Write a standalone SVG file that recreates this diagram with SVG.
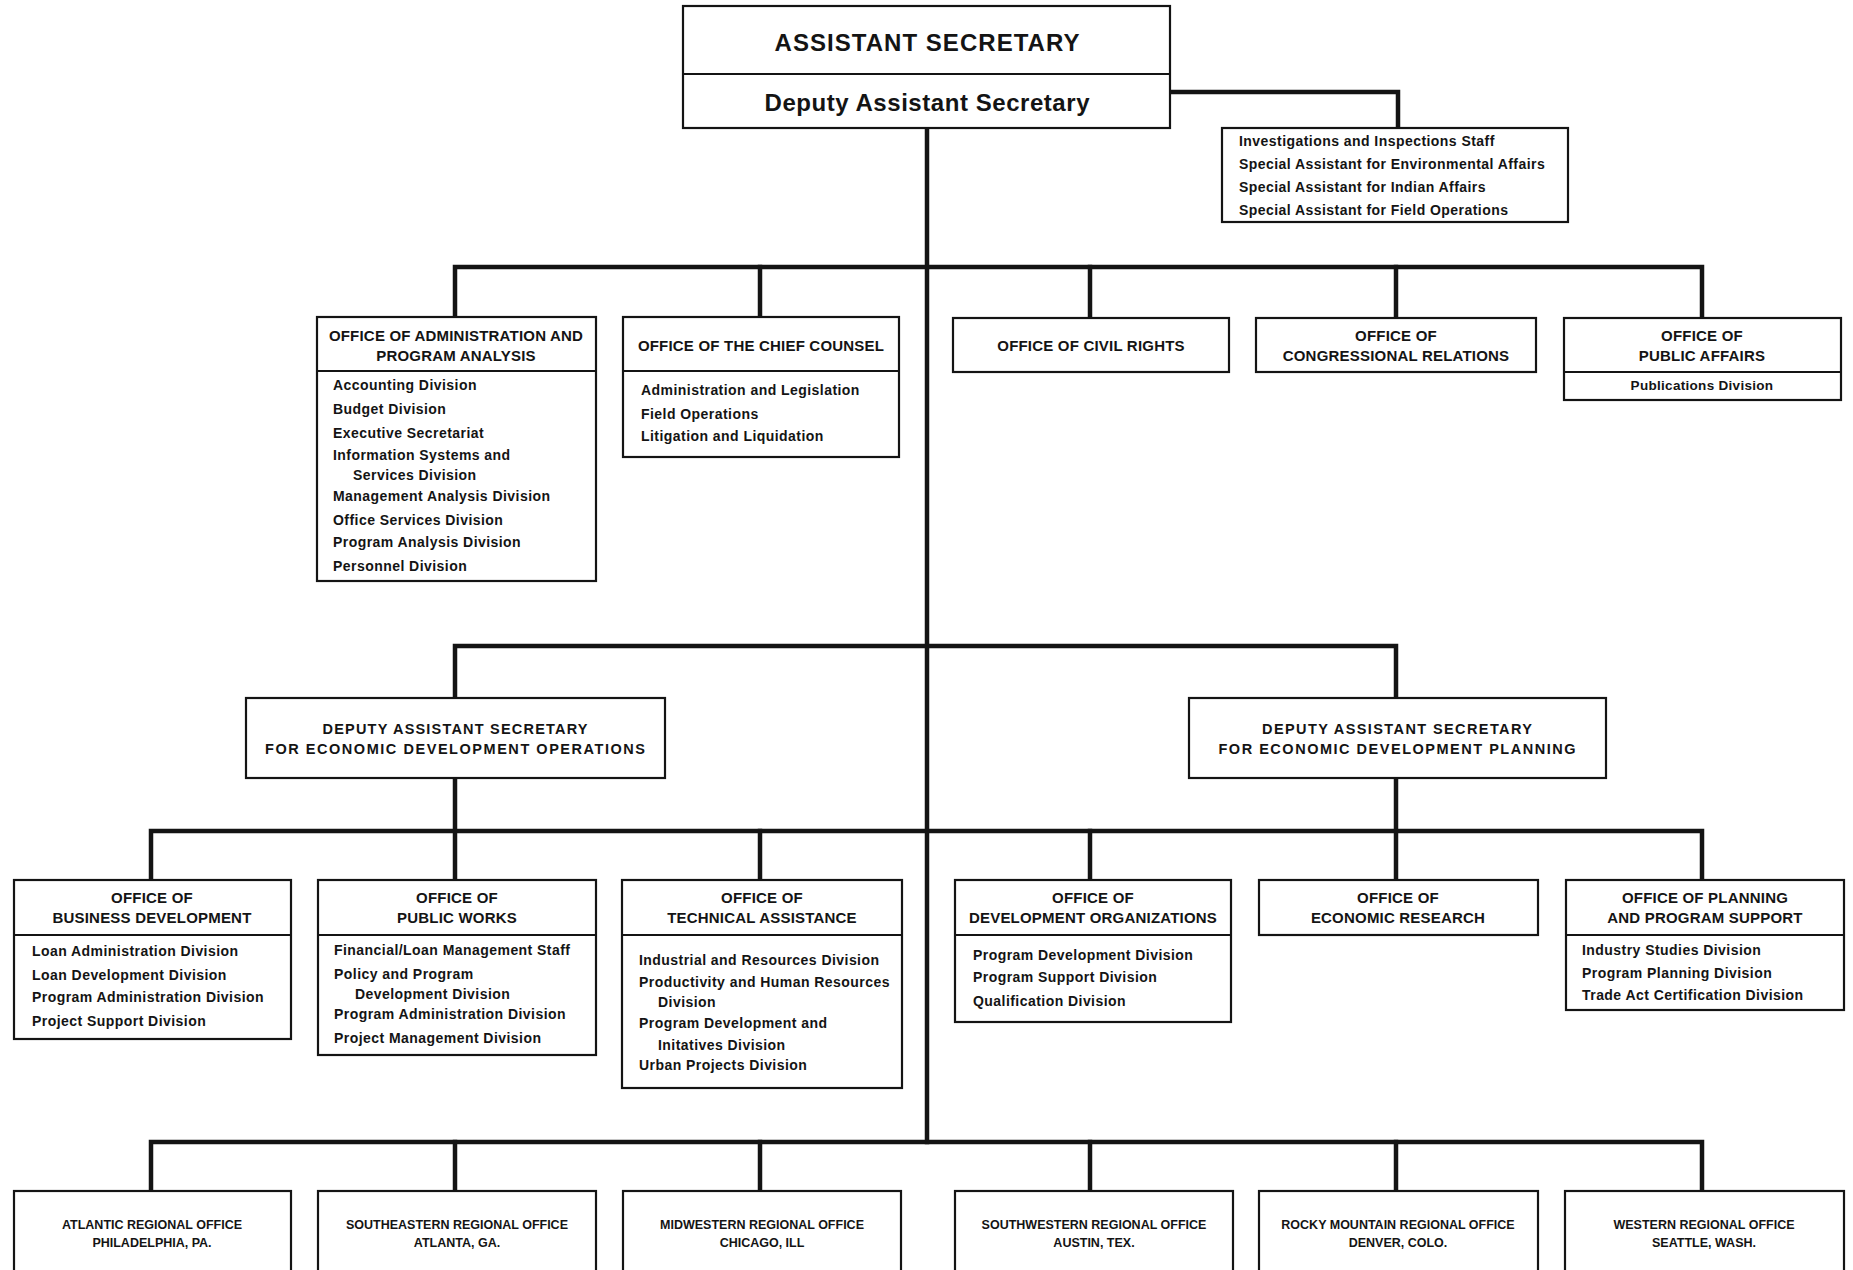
<svg xmlns="http://www.w3.org/2000/svg" width="1853" height="1270" viewBox="0 0 1853 1270">
<style>
.bg{fill:#fff}
.box{fill:#fff;stroke:#141414;stroke-width:2.2}
.dv{stroke:#141414;stroke-width:2}
.conn{fill:none;stroke:#141414;stroke-width:4.5;stroke-linejoin:miter;stroke-linecap:square}
text{font-family:"Liberation Sans",Arial,sans-serif;font-weight:bold;fill:#141414}
.t{font-size:15px;text-anchor:middle;letter-spacing:0.2px}
.i{font-size:14px;letter-spacing:0.45px}
.ic{font-size:13.5px;text-anchor:middle;letter-spacing:0.3px}
.r{font-size:12.5px;text-anchor:middle}
.big{font-size:24px;text-anchor:middle}
.mid{font-size:24px;text-anchor:middle}
.das{font-size:14.5px;text-anchor:middle}
</style>
<rect class="bg" x="0" y="0" width="1853" height="1270"/>

<g id="connectors">
<path class="conn" d="M1170,92 H1398 V128"/>
<path class="conn" d="M927,128 V1142"/>
<path class="conn" d="M455,317 V267 H1702 V317"/>
<path class="conn" d="M760,267 V317"/>
<path class="conn" d="M1090,267 V317"/>
<path class="conn" d="M1396,267 V317"/>
<path class="conn" d="M455,698 V646 H1396 V698"/>
<path class="conn" d="M455,778 V880"/>
<path class="conn" d="M1396,778 V880"/>
<path class="conn" d="M151,880 V831 H1702 V880"/>
<path class="conn" d="M760,831 V880"/>
<path class="conn" d="M1090,831 V880"/>
<path class="conn" d="M151,1191 V1142 H1702 V1191"/>
<path class="conn" d="M455,1142 V1191"/>
<path class="conn" d="M760,1142 V1191"/>
<path class="conn" d="M1090,1142 V1191"/>
<path class="conn" d="M1396,1142 V1191"/>
</g>

<g id="assistant-secretary">
<rect class="box" x="683" y="6" width="487" height="122"/>
<line class="dv" x1="683" y1="74" x2="1170" y2="74"/>
<text class="big" x="927" y="51" textLength="305">ASSISTANT SECRETARY</text>
<text class="mid" x="927" y="111" textLength="325">Deputy Assistant Secretary</text>
</g>

<g id="staff">
<rect class="box" x="1222" y="128" width="346" height="94"/>
<text class="i" x="1239" y="146">Investigations and Inspections Staff</text>
<text class="i" x="1239" y="169">Special Assistant for Environmental Affairs</text>
<text class="i" x="1239" y="192">Special Assistant for Indian Affairs</text>
<text class="i" x="1239" y="215">Special Assistant for Field Operations</text>
</g>

<g id="admin">
<rect class="box" x="317" y="317" width="279" height="264"/>
<line class="dv" x1="317" y1="371" x2="596" y2="371"/>
<text class="t" x="456" y="341">OFFICE OF ADMINISTRATION AND</text>
<text class="t" x="456" y="361">PROGRAM ANALYSIS</text>
<text class="i" x="333" y="390">Accounting Division</text>
<text class="i" x="333" y="414">Budget Division</text>
<text class="i" x="333" y="438">Executive Secretariat</text>
<text class="i" x="333" y="460">Information Systems and</text>
<text class="i" x="353" y="480">Services Division</text>
<text class="i" x="333" y="501">Management Analysis Division</text>
<text class="i" x="333" y="525">Office Services Division</text>
<text class="i" x="333" y="547">Program Analysis Division</text>
<text class="i" x="333" y="571">Personnel Division</text>
</g>

<g id="chief-counsel">
<rect class="box" x="623" y="317" width="276" height="140"/>
<line class="dv" x1="623" y1="371" x2="899" y2="371"/>
<text class="t" x="761" y="351">OFFICE OF THE CHIEF COUNSEL</text>
<text class="i" x="641" y="395">Administration and Legislation</text>
<text class="i" x="641" y="419">Field Operations</text>
<text class="i" x="641" y="441">Litigation and Liquidation</text>
</g>

<g id="civil-rights">
<rect class="box" x="953" y="318" width="276" height="54"/>
<text class="t" x="1091" y="351">OFFICE OF CIVIL RIGHTS</text>
</g>

<g id="congressional">
<rect class="box" x="1256" y="318" width="280" height="54"/>
<text class="t" x="1396" y="341">OFFICE OF</text>
<text class="t" x="1396" y="361">CONGRESSIONAL RELATIONS</text>
</g>

<g id="public-affairs">
<rect class="box" x="1564" y="318" width="277" height="82"/>
<line class="dv" x1="1564" y1="372" x2="1841" y2="372"/>
<text class="t" x="1702" y="341">OFFICE OF</text>
<text class="t" x="1702" y="361">PUBLIC AFFAIRS</text>
<text class="ic" x="1702" y="390">Publications Division</text>
</g>

<g id="das-operations">
<rect class="box" x="246" y="698" width="419" height="80"/>
<text class="das" x="455" y="734" textLength="265">DEPUTY ASSISTANT SECRETARY</text>
<text class="das" x="455" y="754" textLength="380">FOR ECONOMIC DEVELOPMENT OPERATIONS</text>
</g>

<g id="das-planning">
<rect class="box" x="1189" y="698" width="417" height="80"/>
<text class="das" x="1397" y="734" textLength="270">DEPUTY ASSISTANT SECRETARY</text>
<text class="das" x="1397" y="754" textLength="357">FOR ECONOMIC DEVELOPMENT PLANNING</text>
</g>

<g id="business-development">
<rect class="box" x="14" y="880" width="277" height="159"/>
<line class="dv" x1="14" y1="935" x2="291" y2="935"/>
<text class="t" x="152" y="903">OFFICE OF</text>
<text class="t" x="152" y="923">BUSINESS DEVELOPMENT</text>
<text class="i" x="32" y="956">Loan Administration Division</text>
<text class="i" x="32" y="980">Loan Development Division</text>
<text class="i" x="32" y="1002">Program Administration Division</text>
<text class="i" x="32" y="1026">Project Support Division</text>
</g>

<g id="public-works">
<rect class="box" x="318" y="880" width="278" height="175"/>
<line class="dv" x1="318" y1="935" x2="596" y2="935"/>
<text class="t" x="457" y="903">OFFICE OF</text>
<text class="t" x="457" y="923">PUBLIC WORKS</text>
<text class="i" x="334" y="955">Financial/Loan Management Staff</text>
<text class="i" x="334" y="979">Policy and Program</text>
<text class="i" x="355" y="999">Development Division</text>
<text class="i" x="334" y="1019">Program Administration Division</text>
<text class="i" x="334" y="1043">Project Management Division</text>
</g>

<g id="technical-assistance">
<rect class="box" x="622" y="880" width="280" height="208"/>
<line class="dv" x1="622" y1="935" x2="902" y2="935"/>
<text class="t" x="762" y="903">OFFICE OF</text>
<text class="t" x="762" y="923">TECHNICAL ASSISTANCE</text>
<text class="i" x="639" y="965">Industrial and Resources Division</text>
<text class="i" x="639" y="987">Productivity and Human Resources</text>
<text class="i" x="658" y="1007">Division</text>
<text class="i" x="639" y="1028">Program Development and</text>
<text class="i" x="658" y="1050">Initatives Division</text>
<text class="i" x="639" y="1070">Urban Projects Division</text>
</g>

<g id="development-organizations">
<rect class="box" x="955" y="880" width="276" height="142"/>
<line class="dv" x1="955" y1="935" x2="1231" y2="935"/>
<text class="t" x="1093" y="903">OFFICE OF</text>
<text class="t" x="1093" y="923">DEVELOPMENT ORGANIZATIONS</text>
<text class="i" x="973" y="960">Program Development Division</text>
<text class="i" x="973" y="982">Program Support Division</text>
<text class="i" x="973" y="1006">Qualification Division</text>
</g>

<g id="economic-research">
<rect class="box" x="1259" y="880" width="279" height="55"/>
<text class="t" x="1398" y="903">OFFICE OF</text>
<text class="t" x="1398" y="923">ECONOMIC RESEARCH</text>
</g>

<g id="planning-program-support">
<rect class="box" x="1566" y="880" width="278" height="130"/>
<line class="dv" x1="1566" y1="935" x2="1844" y2="935"/>
<text class="t" x="1705" y="903">OFFICE OF PLANNING</text>
<text class="t" x="1705" y="923">AND PROGRAM SUPPORT</text>
<text class="i" x="1582" y="955">Industry Studies Division</text>
<text class="i" x="1582" y="978">Program Planning Division</text>
<text class="i" x="1582" y="1000">Trade Act Certification Division</text>
</g>

<g id="atlantic">
<rect class="box" x="14" y="1191" width="277" height="90"/>
<text class="r" x="152" y="1229">ATLANTIC REGIONAL OFFICE</text>
<text class="r" x="152" y="1247">PHILADELPHIA, PA.</text>
</g>
<g id="southeastern">
<rect class="box" x="318" y="1191" width="278" height="90"/>
<text class="r" x="457" y="1229">SOUTHEASTERN REGIONAL OFFICE</text>
<text class="r" x="457" y="1247">ATLANTA, GA.</text>
</g>
<g id="midwestern">
<rect class="box" x="623" y="1191" width="278" height="90"/>
<text class="r" x="762" y="1229">MIDWESTERN REGIONAL OFFICE</text>
<text class="r" x="762" y="1247">CHICAGO, ILL</text>
</g>
<g id="southwestern">
<rect class="box" x="955" y="1191" width="278" height="90"/>
<text class="r" x="1094" y="1229">SOUTHWESTERN REGIONAL OFFICE</text>
<text class="r" x="1094" y="1247">AUSTIN, TEX.</text>
</g>
<g id="rocky-mountain">
<rect class="box" x="1259" y="1191" width="279" height="90"/>
<text class="r" x="1398" y="1229">ROCKY MOUNTAIN REGIONAL OFFICE</text>
<text class="r" x="1398" y="1247">DENVER, COLO.</text>
</g>
<g id="western">
<rect class="box" x="1565" y="1191" width="279" height="90"/>
<text class="r" x="1704" y="1229">WESTERN REGIONAL OFFICE</text>
<text class="r" x="1704" y="1247">SEATTLE, WASH.</text>
</g>
</svg>
